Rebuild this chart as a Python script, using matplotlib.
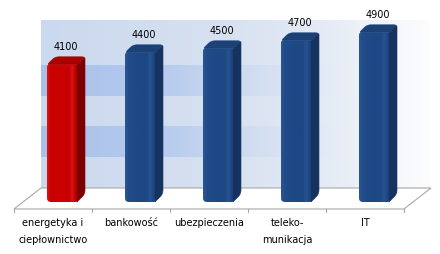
import numpy as np
import matplotlib
matplotlib.use('Agg')
import matplotlib.pyplot as plt
from matplotlib.patches import Polygon
from matplotlib.colors import LinearSegmentedColormap

# data
categories = ['energetyka i\nciepłownictwo', 'bankowość', 'ubezpieczenia', 'teleko-\nmunikacja', 'IT']
values = [4100, 4400, 4500, 4700, 4900]
value_labels = ['4100', '4400', '4500', '4700', '4900']
highlight = [True, False, False, False, False]

# picture scale: pixels per category / per value unit
PX_CAT = 78.0
PX_VAL = 0.04
sx = 1.0 / PX_CAT
sy = 1.0 / PX_VAL

base = 670                      # value where the bars stand
floor_front = base - 7 * sy
depth_x, depth_y = 27 * sx, 21 * sy
floor_back = floor_front + depth_y
wall_top = base + 182 * sy
band_step = 770

n = len(values)

fig = plt.figure(figsize=(4.4, 2.54), dpi=100)
ax = fig.add_axes([0, 0, 1, 1])
ax.set_xlim(-53 * sx, 387 * sx)
ax.set_ylim(base - 52 * sy, base + 202 * sy)
ax.axis('off')

# back wall with bands fading to white
light = LinearSegmentedColormap.from_list('light', [(0, '#cbd9ee'), (0.45, '#d6e0f0'), (0.75, '#e6ecf6'), (1, '#fdfdfe')])
dark = LinearSegmentedColormap.from_list('dark', [(0, '#a8c0ea'), (0.3, '#b6caee'), (0.5, '#ccdaf0'), (0.7, '#e1e8f4'), (1, '#fdfdfe')])
wx0 = -0.5 + depth_x
wx1 = n - 0.5 + depth_x
grad = np.linspace(0, 1, 256)[np.newaxis, :]
edges = list(np.arange(floor_back, wall_top - band_step, band_step)) + [wall_top]
for k in range(len(edges) - 1):
    cm = light if k % 2 == 0 else dark
    ax.imshow(grad, cmap=cm, extent=(wx0, wx1, edges[k], edges[k + 1]),
              aspect='auto', interpolation='bilinear', zorder=0)

# floor
floor_pts = [(-0.5, floor_front), (n - 0.5, floor_front),
             (n - 0.5 + depth_x, floor_back), (-0.5 + depth_x, floor_back)]
ax.add_patch(Polygon(floor_pts, closed=True, facecolor='white',
                     edgecolor='#a8a8a8', linewidth=0.8, zorder=1))
for t in np.arange(-0.5, n, 1.0):
    ax.plot([t, t], [floor_front, floor_front - 3 * sy], color='#a8a8a8', lw=0.8, zorder=1)


def rounded(pts, radii, steps=7):
    pts = np.asarray(pts, float)
    out = []
    m = len(pts)
    for k in range(m):
        p = pts[k]
        r = radii[k]
        if r <= 0:
            out.append(p)
            continue
        a = pts[k - 1]
        b = pts[(k + 1) % m]
        u1 = (a - p) / np.hypot(*(a - p))
        u2 = (b - p) / np.hypot(*(b - p))
        q1 = p + u1 * r
        q2 = p + u2 * r
        t = np.linspace(0, 1, steps)[:, None]
        out.extend((1 - t) ** 2 * q1 + 2 * (1 - t) * t * p + t ** 2 * q2)
    return np.array(out)


def to_data(px, x0, y0):
    return np.column_stack([x0 + px[:, 0] * sx, y0 + px[:, 1] * sy])


blue = {'front': ['#2a5794', '#214c89', '#1e4884', '#1e4884', '#285393', '#1f4a85', '#1a4078'],
        'side': '#16335f', 'cap': '#1c4176'}
red = {'front': ['#d81414', '#cc0000', '#c80000', '#c80000', '#d81616', '#c40000', '#ac0000'],
       'side': '#7c0000', 'cap': '#a80000'}
stops = [0, 0.12, 0.5, 0.74, 0.84, 0.93, 1]

w, d = 30, 8
for i, v in enumerate(values):
    st = red if highlight[i] else blue
    x0 = i - 6 * sx
    h = (v - base) * PX_VAL
    side = rounded([(w, 0), (w + d, d), (w + d, h + d), (w, h)], [0, 4, 2, 0])
    cap = rounded([(0, h), (d, h + d), (w + d, h + d), (w, h)], [3, 4, 3, 0])
    front = rounded([(0, 0), (w, 0), (w, h), (0, h)], [4, 1, 0, 2])
    ax.add_patch(Polygon(to_data(side, x0, base), closed=True, facecolor=st['side'],
                         edgecolor=st['side'], lw=0.4, zorder=3))
    ax.add_patch(Polygon(to_data(cap, x0, base), closed=True, facecolor=st['cap'],
                         edgecolor=st['cap'], lw=0.4, zorder=3))
    fp = Polygon(to_data(front, x0, base), closed=True, facecolor='none',
                 edgecolor='none', zorder=4)
    ax.add_patch(fp)
    cm = LinearSegmentedColormap.from_list('f%d' % i, list(zip(stops, st['front'])))
    im = ax.imshow(grad, cmap=cm, extent=(x0, x0 + w * sx, base, v),
                   aspect='auto', interpolation='bilinear', zorder=4)
    im.set_clip_path(fp)
    ax.text(x0 + (w + d) / 2 * sx, v + (d + 10) * sy, value_labels[i],
            ha='center', va='center', fontsize=7, color='black', zorder=10)

for i, lab in enumerate(categories):
    for j, line in enumerate(lab.split('\n')):
        ax.text(i, base - (21 + 17 * j) * sy, line, ha='center', va='center',
                fontsize=7, color='black', zorder=10)

ax.set_xlim(-53 * sx, 387 * sx)
ax.set_ylim(base - 52 * sy, base + 202 * sy)
fig.savefig('out.png', dpi=100, facecolor='white')
